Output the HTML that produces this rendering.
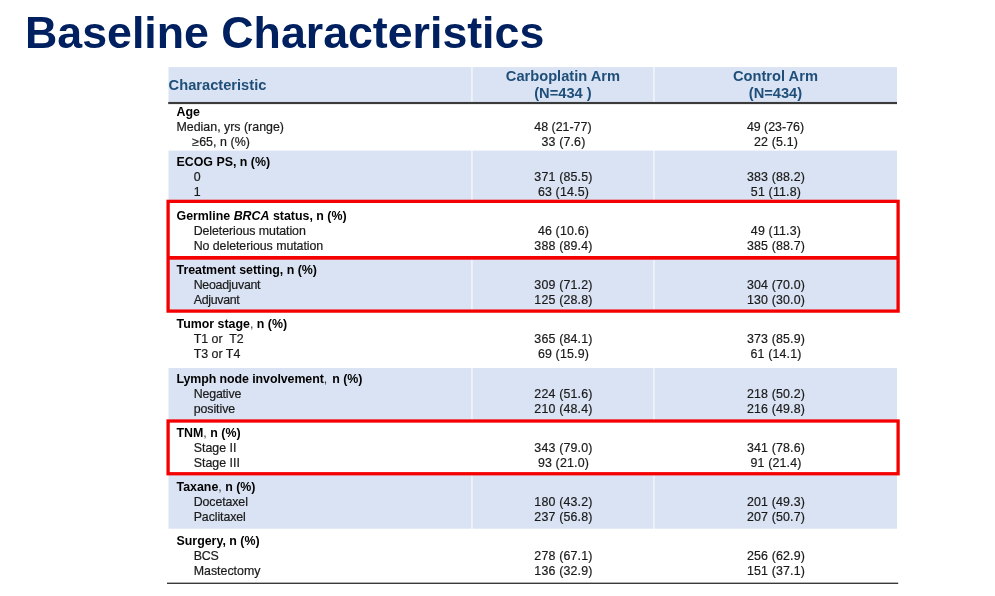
<!DOCTYPE html>
<html lang="en">
<head>
<meta charset="utf-8">
<title>Baseline Characteristics</title>
<style>
html,body{margin:0;padding:0;background:#fff;}
body{width:995px;height:596px;position:relative;overflow:hidden;font-family:"Liberation Sans",Arial,sans-serif;color:#1a1a1a;}
.abs{position:absolute;white-space:pre;}
h1{margin:0;}
.title{font-weight:bold;font-size:44.7px;line-height:44.7px;color:#002060;}
.h{font-weight:bold;font-size:14.67px;line-height:14.67px;color:#1f4e79;}
.t{font-size:12.4px;line-height:12.4px;-webkit-text-stroke:0.2px #1a1a1a;}
.b{font-weight:bold;color:#000;-webkit-text-stroke:0;}
.n{font-weight:normal;color:#333;}
.c{text-align:center;}
.v{letter-spacing:0.17px;}
.ln{position:absolute;}
</style>
</head>
<body>

<svg class="ln" aria-hidden="true" style="left:0;top:0" width="995" height="596" viewBox="0 0 995 596"><rect x="168.5" y="67.1" width="302.95" height="35.40" fill="#dae3f3"/><rect x="472.45" y="67.1" width="181.00" height="35.40" fill="#dae3f3"/><rect x="654.45" y="67.1" width="242.55" height="35.40" fill="#dae3f3"/><rect x="168.5" y="150.6" width="302.95" height="50.40" fill="#dae3f3"/><rect x="472.45" y="150.6" width="181.00" height="50.40" fill="#dae3f3"/><rect x="654.45" y="150.6" width="242.55" height="50.40" fill="#dae3f3"/><rect x="168.5" y="258" width="302.95" height="53.00" fill="#dae3f3"/><rect x="472.45" y="258" width="181.00" height="53.00" fill="#dae3f3"/><rect x="654.45" y="258" width="242.55" height="53.00" fill="#dae3f3"/><rect x="168.5" y="368.0" width="302.95" height="53.00" fill="#dae3f3"/><rect x="472.45" y="368.0" width="181.00" height="53.00" fill="#dae3f3"/><rect x="654.45" y="368.0" width="242.55" height="53.00" fill="#dae3f3"/><rect x="168.5" y="474" width="302.95" height="54.70" fill="#dae3f3"/><rect x="472.45" y="474" width="181.00" height="54.70" fill="#dae3f3"/><rect x="654.45" y="474" width="242.55" height="54.70" fill="#dae3f3"/><rect x="168.2" y="101.95" width="728.80" height="2.15" fill="#3a3a3a"/><rect x="167" y="582.6" width="731.20" height="1.4" fill="#3a3a3a"/><rect x="168.10" y="201.35" width="730.00" height="109.75" fill="none" stroke="#f40000" stroke-width="3.3"/><rect x="168.1" y="256.0" width="730" height="3.7" fill="#f40000"/><rect x="168.10" y="421.00" width="730.00" height="52.75" fill="none" stroke="#f40000" stroke-width="3.3"/></svg>
<h1 class="abs title" style="left:25.1px;top:10.76px">Baseline Characteristics</h1>
<div class="tbl" role="table" aria-label="Baseline Characteristics">
<div role="row" class="hdr">
<div role="columnheader" class="abs h" style="left:168.6px;top:77.58px">Characteristic</div>
<div class="abs h c" style="left:472.95px;width:180px;top:69.18px">Carboplatin Arm</div>
<div class="abs h c" style="left:472.95px;width:180px;top:85.68px">(N=434 )</div>
<div class="abs h c" style="left:685.48px;width:180px;top:69.18px">Control Arm</div>
<div class="abs h c" style="left:685.48px;width:180px;top:85.68px">(N=434)</div>
</div>
<div role="rowgroup" class="grp">
<div role="rowheader" class="abs t b" style="left:176.5px;top:105.5px">Age</div>
<div class="abs t" style="left:176.5px;top:120.5px">Median, yrs (range)</div>
<div class="abs t c" style="left:502.95px;width:120px;top:120.5px">48 (21-77)</div>
<div class="abs t c" style="left:715.48px;width:120px;top:120.5px">49 (23-76)</div>
<div class="abs t" style="left:192.3px;top:135.5px;letter-spacing:0.06px">≥65, n (%)</div>
<div class="abs t v c" style="left:503.45px;width:120px;top:135.5px">33 (7.6)</div>
<div class="abs t v c" style="left:715.98px;width:120px;top:135.5px">22 (5.1)</div>
</div>
<div role="rowgroup" class="grp">
<div role="rowheader" class="abs t b" style="left:176.5px;top:155.5px">ECOG PS, n (%)</div>
<div class="abs t" style="left:193.7px;top:170.5px">0</div>
<div class="abs t v c" style="left:503.45px;width:120px;top:170.5px">371 (85.5)</div>
<div class="abs t v c" style="left:715.98px;width:120px;top:170.5px">383 (88.2)</div>
<div class="abs t" style="left:193.7px;top:185.5px">1</div>
<div class="abs t v c" style="left:503.45px;width:120px;top:185.5px">63 (14.5)</div>
<div class="abs t v c" style="left:715.98px;width:120px;top:185.5px">51 (11.8)</div>
</div>
<div role="rowgroup" class="grp">
<div role="rowheader" class="abs t b" style="left:176.5px;top:209.5px">Germline <i>BRCA</i> status, n (%)</div>
<div class="abs t" style="left:193.7px;top:224.5px;letter-spacing:-0.08px">Deleterious mutation</div>
<div class="abs t v c" style="left:503.45px;width:120px;top:224.5px">46 (10.6)</div>
<div class="abs t v c" style="left:715.98px;width:120px;top:224.5px">49 (11.3)</div>
<div class="abs t" style="left:193.7px;top:239.5px;letter-spacing:-0.06px">No deleterious mutation</div>
<div class="abs t v c" style="left:503.45px;width:120px;top:239.5px">388 (89.4)</div>
<div class="abs t v c" style="left:715.98px;width:120px;top:239.5px">385 (88.7)</div>
</div>
<div role="rowgroup" class="grp">
<div role="rowheader" class="abs t b" style="left:176.5px;top:263.5px">Treatment setting, n (%)</div>
<div class="abs t" style="left:193.7px;top:278.5px;letter-spacing:-0.27px">Neoadjuvant</div>
<div class="abs t v c" style="left:503.45px;width:120px;top:278.5px">309 (71.2)</div>
<div class="abs t v c" style="left:715.98px;width:120px;top:278.5px">304 (70.0)</div>
<div class="abs t" style="left:193.7px;top:293.5px;letter-spacing:-0.3px">Adjuvant</div>
<div class="abs t v c" style="left:503.45px;width:120px;top:293.5px">125 (28.8)</div>
<div class="abs t v c" style="left:715.98px;width:120px;top:293.5px">130 (30.0)</div>
</div>
<div role="rowgroup" class="grp">
<div role="rowheader" class="abs t b" style="left:176.5px;top:317.5px">Tumor stage<span class="n">,</span> n (%)</div>
<div class="abs t" style="left:193.7px;top:332.5px">T1 or  T2</div>
<div class="abs t v c" style="left:503.45px;width:120px;top:332.5px">365 (84.1)</div>
<div class="abs t v c" style="left:715.98px;width:120px;top:332.5px">373 (85.9)</div>
<div class="abs t" style="left:193.7px;top:347.5px">T3 or T4</div>
<div class="abs t v c" style="left:503.45px;width:120px;top:347.5px">69 (15.9)</div>
<div class="abs t v c" style="left:715.98px;width:120px;top:347.5px">61 (14.1)</div>
</div>
<div role="rowgroup" class="grp">
<div role="rowheader" class="abs t b" style="left:176.5px;top:372.5px"><span style="letter-spacing:-0.08px">Lymph node involvement</span><span class="n">,</span><span style="margin-left:1.6px"> n (%)</span></div>
<div class="abs t" style="left:193.7px;top:387.5px;letter-spacing:-0.18px">Negative</div>
<div class="abs t v c" style="left:503.45px;width:120px;top:387.5px">224 (51.6)</div>
<div class="abs t v c" style="left:715.98px;width:120px;top:387.5px">218 (50.2)</div>
<div class="abs t" style="left:193.7px;top:402.5px;letter-spacing:-0.08px">positive</div>
<div class="abs t v c" style="left:503.45px;width:120px;top:402.5px">210 (48.4)</div>
<div class="abs t v c" style="left:715.98px;width:120px;top:402.5px">216 (49.8)</div>
</div>
<div role="rowgroup" class="grp">
<div role="rowheader" class="abs t b" style="left:176.5px;top:426.5px">TNM<span class="n">,</span> n (%)</div>
<div class="abs t" style="left:193.7px;top:441.5px">Stage II</div>
<div class="abs t v c" style="left:503.45px;width:120px;top:441.5px">343 (79.0)</div>
<div class="abs t v c" style="left:715.98px;width:120px;top:441.5px">341 (78.6)</div>
<div class="abs t" style="left:193.7px;top:456.5px">Stage III</div>
<div class="abs t v c" style="left:503.45px;width:120px;top:456.5px">93 (21.0)</div>
<div class="abs t v c" style="left:715.98px;width:120px;top:456.5px">91 (21.4)</div>
</div>
<div role="rowgroup" class="grp">
<div role="rowheader" class="abs t b" style="left:176.5px;top:480.5px">Taxane<span class="n">,</span> n (%)</div>
<div class="abs t" style="left:193.7px;top:495.5px;letter-spacing:-0.11px">Docetaxel</div>
<div class="abs t v c" style="left:503.45px;width:120px;top:495.5px">180 (43.2)</div>
<div class="abs t v c" style="left:715.98px;width:120px;top:495.5px">201 (49.3)</div>
<div class="abs t" style="left:193.7px;top:510.5px;letter-spacing:-0.1px">Paclitaxel</div>
<div class="abs t v c" style="left:503.45px;width:120px;top:510.5px">237 (56.8)</div>
<div class="abs t v c" style="left:715.98px;width:120px;top:510.5px">207 (50.7)</div>
</div>
<div role="rowgroup" class="grp">
<div role="rowheader" class="abs t b" style="left:176.5px;top:534.5px">Surgery, n (%)</div>
<div class="abs t" style="left:193.7px;top:549.5px;letter-spacing:-0.2px">BCS</div>
<div class="abs t v c" style="left:503.45px;width:120px;top:549.5px">278 (67.1)</div>
<div class="abs t v c" style="left:715.98px;width:120px;top:549.5px">256 (62.9)</div>
<div class="abs t" style="left:193.7px;top:564.5px">Mastectomy</div>
<div class="abs t v c" style="left:503.45px;width:120px;top:564.5px">136 (32.9)</div>
<div class="abs t v c" style="left:715.98px;width:120px;top:564.5px">151 (37.1)</div>
</div>
</div>
</body>
</html>
